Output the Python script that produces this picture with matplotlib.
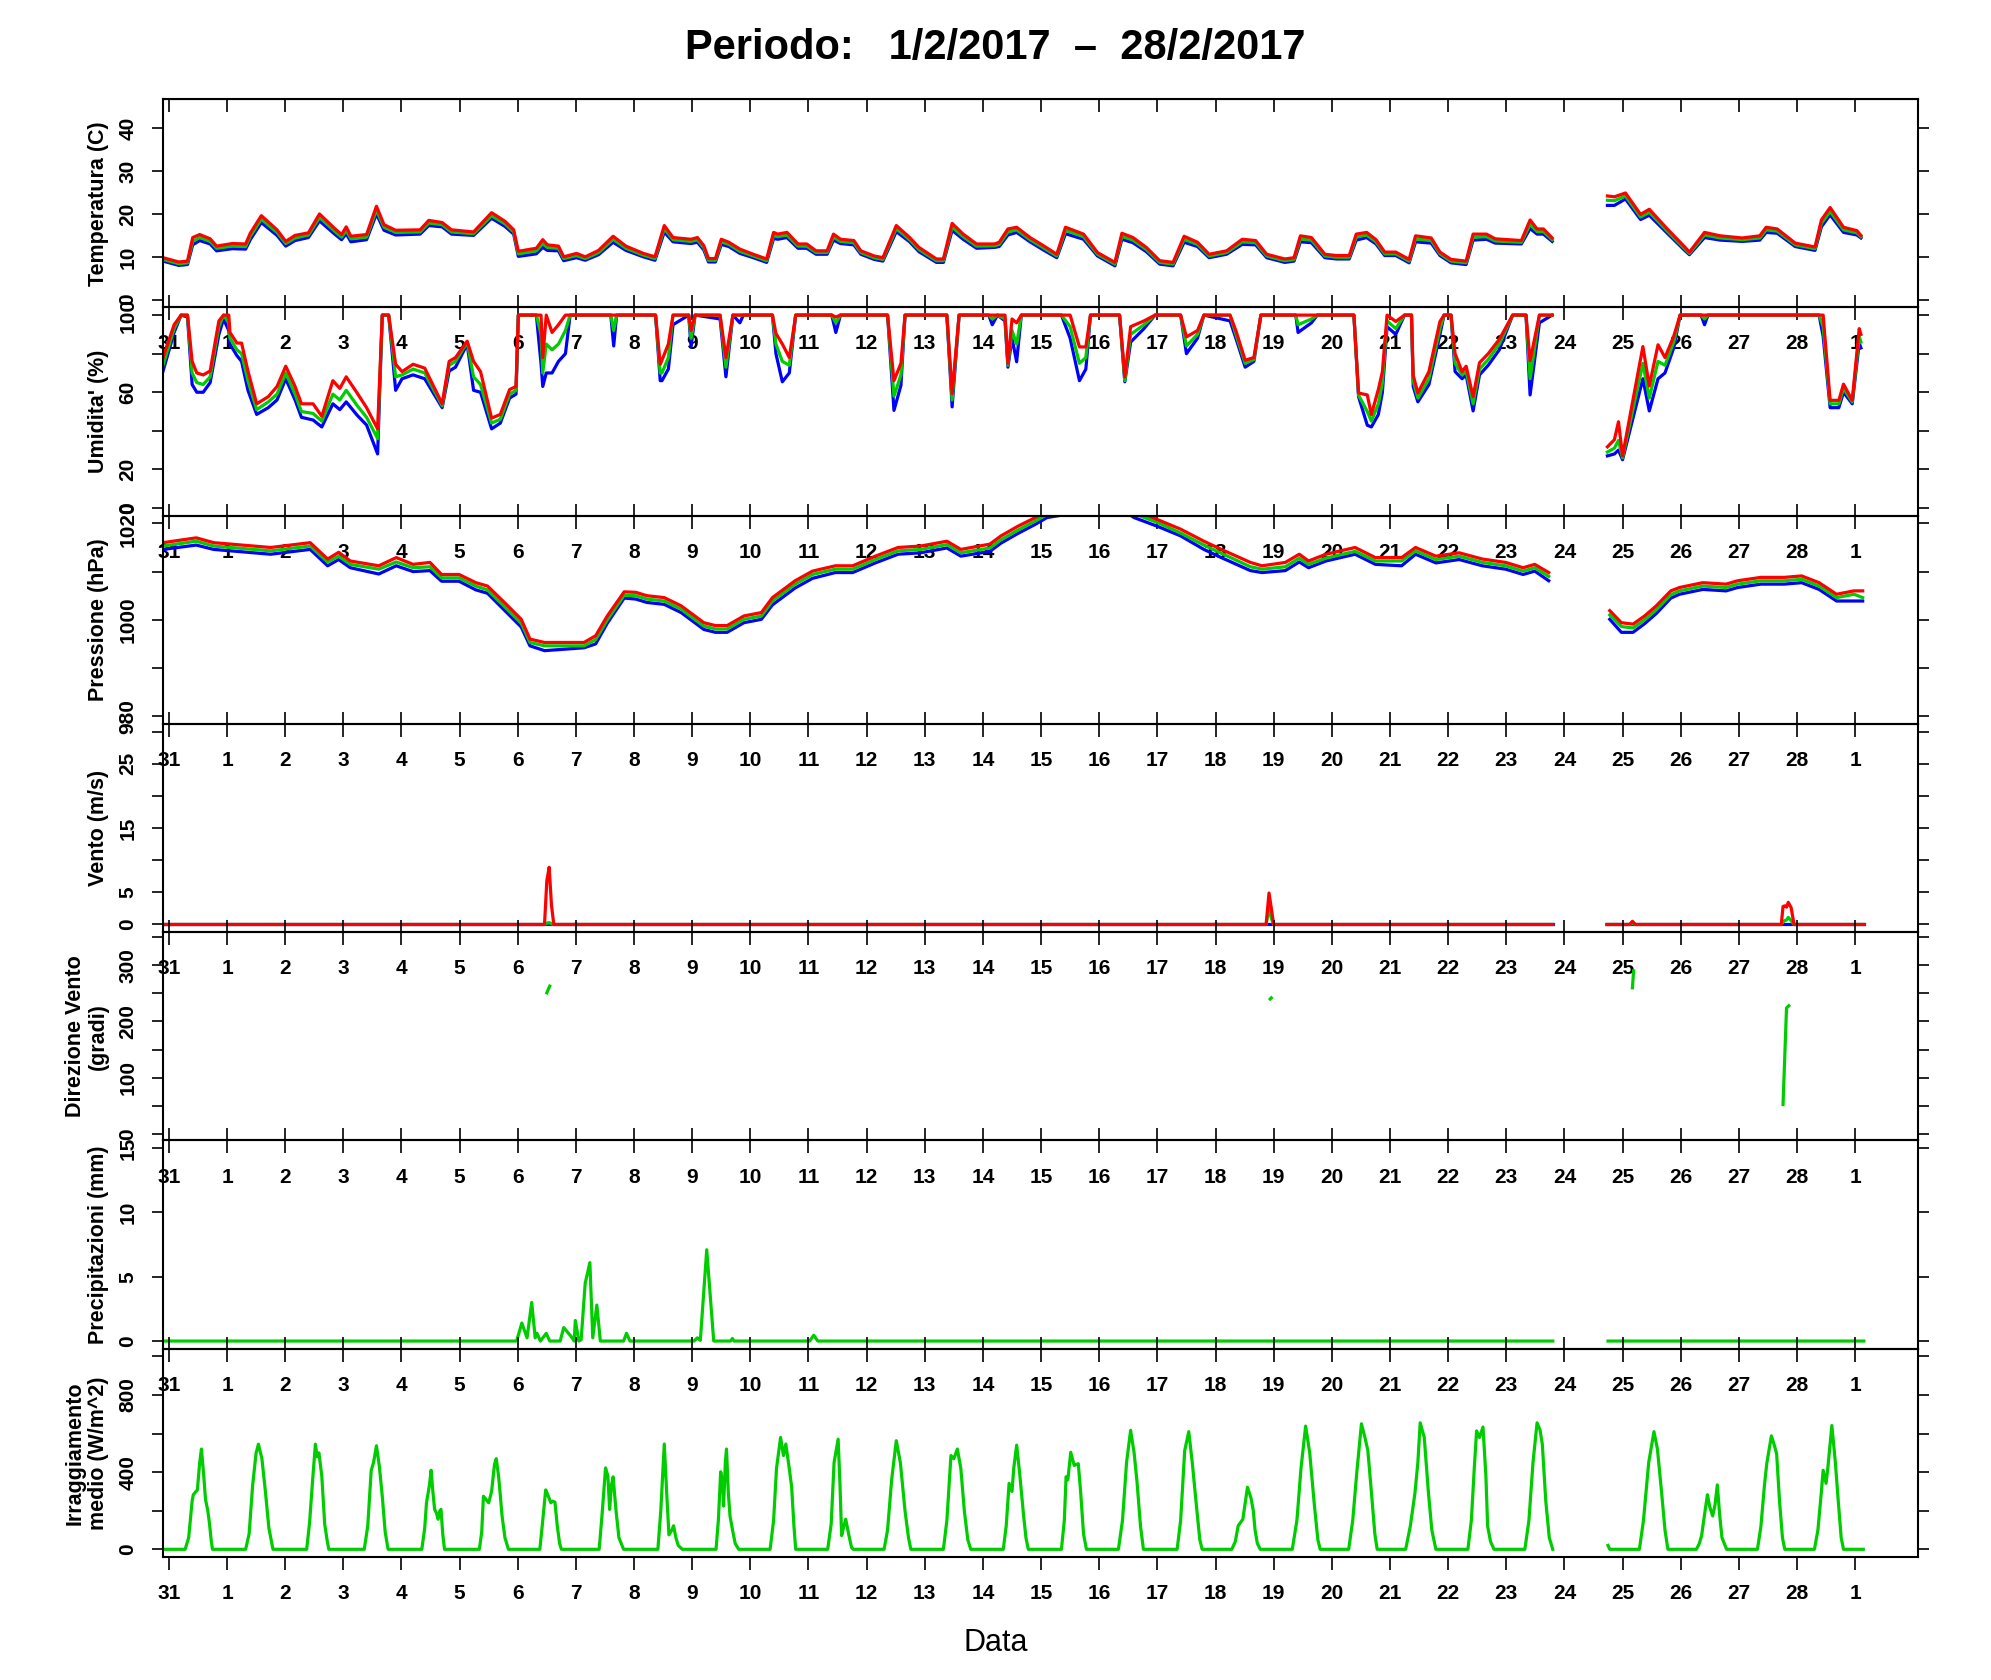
import numpy as np
import matplotlib
matplotlib.use("Agg")
import matplotlib.pyplot as plt

plt.rcParams['font.family'] = ['Liberation Sans', 'DejaVu Sans']

nan = np.nan

# days counted from 31 Jan 00:00 (1 Feb = 1, ..., 1 Mar = 29)
day_ticks = list(range(0, 30))
day_labels = ['31'] + [str(d) for d in range(1, 29)] + ['1']

# ---- temperature (C): max / mean / min
temp_t = [-0.10, 0.17, 0.32, 0.41, 0.53, 0.71, 0.82, 1.09, 1.32, 1.40, 1.59, 1.86, 2.01, 2.17, 2.40, 2.59,
          2.86, 2.97, 3.05, 3.13, 3.40, 3.57, 3.70, 3.90, 4.32, 4.47, 4.70, 4.86, 5.24, 5.55, 5.78, 5.93,
          6.01, 6.32, 6.43, 6.51, 6.70, 6.79, 7.01, 7.16, 7.39, 7.64, 7.86, 8.16, 8.36, 8.52, 8.67, 8.98,
          9.09, 9.20, 9.28, 9.40, 9.50, 9.63, 9.82, 10.05, 10.28, 10.40, 10.47, 10.63, 10.82, 10.97, 11.13, 11.32,
          11.43, 11.55, 11.78, 11.90, 12.13, 12.28, 12.51, 12.74, 12.90, 13.20, 13.32, 13.47, 13.66, 13.89, 14.20, 14.28,
          14.43, 14.58, 14.81, 15.04, 15.27, 15.42, 15.73, 15.97, 16.27, 16.39, 16.58, 16.81, 17.04, 17.27, 17.46, 17.69,
          17.89, 18.04, 18.19, 18.46, 18.69, 18.88, 19.19, 19.35, 19.46, 19.65, 19.88, 20.08, 20.30, 20.42, 20.60, 20.76,
          20.91, 21.10, 21.33, 21.44, 21.71, 21.86, 22.05, 22.31, 22.43, 22.66, 22.81, 23.26, 23.41, 23.53, 23.64, 23.79,
          24.30, 24.74, 24.86, 25.05, 25.31, 25.46, 25.77, 26.07, 26.15, 26.41, 26.68, 27.06, 27.36, 27.47, 27.66, 27.97,
          28.31, 28.42, 28.57, 28.80, 29.03, 29.10]
temp_max = [9.8, 8.8, 9.0, 14.5, 15.2, 14.2, 12.5, 13.1, 13.0, 15.5, 19.6, 16.3, 13.6, 15.0, 15.6, 20.0,
            16.5, 15.2, 17.0, 14.8, 15.2, 21.8, 17.5, 16.2, 16.3, 18.5, 18.0, 16.3, 15.8, 20.3, 18.3, 16.3,
            11.3, 12.0, 14.0, 12.8, 12.5, 10.0, 10.8, 10.0, 11.5, 14.8, 12.5, 10.8, 10.0, 17.3, 14.5, 14.1,
            14.5, 12.6, 9.6, 9.6, 14.1, 13.4, 11.8, 10.6, 9.5, 15.7, 15.3, 15.7, 13.0, 13.0, 11.4, 11.4,
            15.3, 14.1, 13.8, 11.4, 10.2, 9.8, 17.3, 14.5, 12.2, 9.5, 9.5, 17.8, 15.3, 13.0, 13.0, 13.4,
            16.5, 16.9, 14.5, 12.6, 10.6, 16.9, 15.3, 11.0, 8.7, 15.5, 14.5, 12.2, 9.1, 8.7, 14.8, 13.4,
            10.6, 11.0, 11.4, 14.1, 13.8, 10.6, 9.5, 9.8, 14.9, 14.5, 10.6, 10.3, 10.3, 15.3, 15.7, 14.0,
            11.1, 11.1, 9.4, 14.9, 14.4, 11.1, 9.4, 9.0, 15.3, 15.3, 14.2, 13.8, 18.6, 16.5, 16.5, 14.4,
            nan, 24.2, 24.0, 24.9, 19.9, 21.1, 16.5, 12.3, 11.1, 15.7, 14.9, 14.4, 14.9, 16.9, 16.5, 13.2,
            12.3, 18.6, 21.5, 16.9, 16.1, 15.0]
temp_mean = [9.4, 8.4, 8.6, 13.6, 14.5, 13.6, 12.0, 12.5, 12.4, 14.8, 18.8, 15.7, 13.1, 14.4, 15.1, 19.2,
             15.9, 14.6, 16.2, 14.2, 14.6, 20.9, 16.9, 15.7, 15.8, 17.9, 17.5, 15.8, 15.4, 19.6, 17.7, 15.8,
             10.7, 11.4, 13.1, 12.2, 12.0, 9.6, 10.3, 9.6, 11.0, 14.1, 12.0, 10.4, 9.6, 16.6, 14.0, 13.6,
             14.0, 12.1, 9.2, 9.2, 13.5, 12.9, 11.3, 10.2, 9.1, 15.0, 14.7, 15.1, 12.5, 12.5, 11.0, 11.0,
             14.6, 13.6, 13.3, 11.0, 9.8, 9.4, 16.6, 14.0, 11.7, 9.1, 9.1, 17.0, 14.7, 12.5, 12.6, 12.9,
             15.8, 16.3, 14.0, 12.1, 10.2, 16.2, 14.7, 10.6, 8.3, 14.8, 13.9, 11.7, 8.7, 8.3, 14.1, 12.9,
             10.2, 10.6, 11.0, 13.5, 13.3, 10.2, 9.1, 9.4, 14.2, 13.9, 10.2, 9.9, 9.9, 14.6, 15.1, 13.5,
             10.7, 10.7, 9.0, 14.2, 13.8, 10.7, 9.0, 8.6, 14.6, 14.7, 13.7, 13.4, 17.6, 15.9, 15.9, 14.0,
             nan, 23.2, 23.1, 24.2, 19.3, 20.4, 16.0, 11.9, 10.8, 15.1, 14.4, 14.0, 14.4, 16.3, 16.0, 12.8,
             11.9, 17.8, 20.6, 16.3, 15.6, 14.7]
temp_min = [9.0, 8.0, 8.2, 12.8, 13.8, 13.0, 11.4, 11.9, 11.8, 14.0, 18.0, 15.0, 12.5, 13.8, 14.5, 18.4,
            15.2, 14.0, 15.4, 13.5, 14.0, 20.0, 16.2, 15.1, 15.3, 17.3, 17.0, 15.3, 15.0, 19.0, 17.1, 15.3,
            10.1, 10.7, 12.2, 11.5, 11.4, 9.1, 9.8, 9.2, 10.5, 13.4, 11.5, 10.0, 9.2, 15.8, 13.5, 13.1,
            13.4, 11.6, 8.8, 8.8, 12.9, 12.4, 10.8, 9.8, 8.7, 14.3, 14.1, 14.5, 12.0, 12.0, 10.6, 10.6,
            13.9, 13.1, 12.8, 10.6, 9.4, 9.0, 15.9, 13.5, 11.2, 8.7, 8.7, 16.2, 14.1, 12.0, 12.2, 12.4,
            15.1, 15.7, 13.5, 11.6, 9.8, 15.4, 14.1, 10.2, 7.9, 14.1, 13.3, 11.2, 8.3, 7.9, 13.4, 12.4,
            9.8, 10.2, 10.6, 12.9, 12.8, 9.8, 8.7, 9.0, 13.5, 13.3, 9.8, 9.5, 9.5, 13.9, 14.5, 13.0,
            10.3, 10.3, 8.6, 13.5, 13.2, 10.3, 8.6, 8.2, 13.9, 14.1, 13.2, 13.0, 16.6, 15.3, 15.3, 13.6,
            nan, 22.0, 22.0, 23.5, 18.7, 19.7, 15.5, 11.5, 10.5, 14.5, 13.9, 13.6, 13.9, 15.7, 15.5, 12.4,
            11.5, 17.0, 19.8, 15.7, 15.1, 14.4]

# ---- relative humidity (%): max / mean / min
hum_t = [-0.10, 0.09, 0.21, 0.32, 0.40, 0.48, 0.59, 0.71, 0.86, 0.94, 1.03, 1.05, 1.17, 1.25, 1.36, 1.51,
         1.71, 1.86, 2.01, 2.17, 2.28, 2.48, 2.63, 2.82, 2.94, 3.05, 3.24, 3.40, 3.59, 3.67, 3.78, 3.90,
         4.01, 4.20, 4.40, 4.70, 4.82, 4.93, 5.13, 5.24, 5.36, 5.55, 5.70, 5.86, 5.97, 6.01, 6.32, 6.40,
         6.43, 6.49, 6.59, 6.70, 6.82, 6.90, 7.60, 7.65, 7.70, 8.37, 8.45, 8.48, 8.59, 8.67, 8.94, 8.98,
         9.05, 9.48, 9.58, 9.70, 9.82, 9.88, 10.38, 10.44, 10.55, 10.67, 10.78, 11.40, 11.47, 11.55, 12.36, 12.47,
         12.59, 12.66, 13.38, 13.47, 13.59, 14.10, 14.16, 14.25, 14.38, 14.43, 14.50, 14.58, 14.66, 15.35, 15.50, 15.66,
         15.77, 15.85, 16.35, 16.44, 16.54, 16.77, 16.96, 17.40, 17.50, 17.69, 17.80, 18.25, 18.35, 18.51, 18.66, 18.78,
         19.38, 19.42, 19.65, 19.75, 20.38, 20.46, 20.61, 20.68, 20.80, 20.87, 20.95, 21.10, 21.25, 21.37, 21.40, 21.48,
         21.67, 21.86, 21.93, 22.05, 22.12, 22.24, 22.31, 22.43, 22.54, 22.69, 22.88, 23.11, 23.34, 23.41, 23.57, 23.79,
         24.30, 24.74, 24.86, 24.93, 25.00, 25.35, 25.46, 25.61, 25.73, 25.88, 25.99, 26.35, 26.41, 26.47, 28.38, 28.45,
         28.57, 28.72, 28.80, 28.95, 29.07, 29.10]
hum_max = [78, 95, 100, 100, 76, 70, 69, 71, 97, 100, 100, 91, 85.5, 85.5, 71, 54,
           57.7, 63, 73.5, 63, 54, 54, 47.5, 66, 62, 68, 59.5, 52, 41, 100, 100, 74.5,
           70.7, 74.5, 72.5, 54, 76, 78, 86.5, 76, 70.7, 46.6, 48.5, 61.4, 63, 100, 100, 100,
           78, 100, 91, 95, 100, 100, 100, 100, 100, 100, 74.5, 76.6, 85, 100, 100, 92,
           100, 100, 78, 100, 100, 100, 100, 90.5, 85, 78, 100, 100, 99, 100, 100, 66,
           75, 100, 100, 59.3, 100, 100, 100, 100, 100, 75, 98, 96, 100, 100, 100, 83.5,
           83.5, 100, 100, 68, 94, 97, 100, 100, 88.7, 92, 100, 100, 92, 76.6, 78, 100,
           100, 100, 100, 100, 100, 59.6, 58.6, 48.4, 61.4, 70.7, 100, 96.7, 100, 100, 68.8, 59.6,
           70.7, 96.7, 100, 100, 80, 70.7, 73.5, 57.7, 75.3, 80, 87.4, 100, 100, 76.3, 100, 100,
           nan, 31.7, 35.4, 44.7, 27, 83.7, 63.3, 84.6, 78, 89, 100, 100, 100, 100, 100, 100,
           55.8, 55.8, 64.2, 55.8, 93, 90]
hum_mean = [74, 93, 100, 100, 70, 65, 64, 68, 94, 100, 96, 88, 82, 80, 66, 51,
            55, 59, 70, 59, 50, 49, 45, 59, 56, 61, 53, 47, 36, 100, 100, 68,
            69, 72, 70, 53, 74, 76, 86, 68, 64, 44, 46, 59, 61, 100, 100, 90,
            70, 85, 82, 85, 92, 100, 100, 92, 100, 100, 70, 70, 78, 100, 100, 88,
            100, 100, 73, 100, 100, 100, 100, 85, 76, 74, 100, 100, 96, 100, 100, 58,
            69, 100, 100, 56, 100, 100, 98, 100, 98, 74, 92, 85, 100, 100, 94, 75,
            78, 100, 100, 66, 90, 95, 100, 100, 84, 90, 100, 100, 90, 75, 77, 100,
            100, 95, 98, 100, 100, 58.5, 50, 45, 54, 65, 97, 93, 100, 100, 66, 57,
            67, 93, 100, 100, 75, 69, 71, 54, 72, 77, 85, 100, 100, 67, 100, 100,
            nan, 29, 31, 35, 26, 75, 57, 76, 74, 86, 100, 100, 98, 100, 100, 94,
            54, 54, 62, 55, 89, 86]
hum_min = [71, 91, 100, 99, 64, 60, 60, 65, 90, 98, 92, 85, 79, 76, 61, 48.5,
           52, 56, 67, 56, 47, 45.6, 42, 54, 51, 55, 48, 43, 28, 100, 100, 61,
           67, 69, 67, 52, 71, 73, 85, 61, 60, 41, 44, 57, 59, 100, 100, 75,
           63, 70, 70, 76, 80, 100, 100, 84, 100, 100, 66, 66, 72, 95, 100, 83.5,
           100, 98, 68, 100, 96, 100, 100, 80, 65.4, 70, 100, 100, 91, 100, 100, 50.6,
           63.6, 100, 100, 52.4, 100, 100, 95, 100, 97, 73, 88, 75.8, 100, 100, 88, 66,
           72, 100, 100, 65.4, 86, 93, 100, 100, 80, 88, 100, 97, 88, 73, 76, 100,
           100, 91, 96, 100, 100, 57.7, 42.9, 42, 48.4, 60, 94, 90, 100, 100, 63, 55,
           64, 90, 100, 100, 70.7, 67, 69, 50.3, 69, 74, 82, 100, 100, 58.6, 96, 100,
           nan, 27, 28, 30, 25, 67, 50.3, 67, 70, 83, 100, 100, 95, 100, 100, 89,
           52, 52, 60, 54, 85.5, 83]

# ---- pressure (hPa): max / mean / min
pres_t = [-0.10, 0.47, 0.77, 1.75, 2.43, 2.73, 2.92, 3.12, 3.61, 3.91, 4.20, 4.49, 4.69, 4.99, 5.28, 5.48,
          5.77, 6.06, 6.21, 6.46, 7.14, 7.34, 7.54, 7.83, 8.03, 8.22, 8.52, 8.81, 9.20, 9.40, 9.60, 9.89,
          10.19, 10.38, 10.77, 11.07, 11.46, 11.76, 12.15, 12.54, 12.93, 13.38, 13.62, 14.12, 14.31, 14.60, 14.90, 15.10,
          15.50, 16.50, 16.60, 17.00, 17.40, 17.80, 18.10, 18.60, 18.80, 19.20, 19.44, 19.60, 19.90, 20.40, 20.75, 21.20,
          21.44, 21.79, 22.19, 22.59, 22.99, 23.29, 23.49, 23.73, 24.30, 24.78, 24.98, 25.18, 25.38, 25.58, 25.83, 25.98,
          26.38, 26.78, 26.98, 27.38, 27.78, 28.08, 28.38, 28.68, 28.98, 29.13]
pres_max = [1016, 1017, 1016, 1015, 1016, 1012.6, 1014, 1012.2, 1011.2, 1012.9, 1011.5, 1011.9, 1009.4, 1009.4, 1007.7, 1007,
            1003.6, 1000.1, 996, 995.3, 995.3, 996.7, 1000.8, 1005.8, 1005.7, 1005, 1004.6, 1002.9, 999.4, 998.8, 998.8, 1000.8,
            1001.5, 1004.6, 1008.1, 1010.1, 1011.2, 1011.2, 1013.2, 1015, 1015.3, 1016.3, 1014.6, 1015.7, 1017.4, 1019.4, 1021.2, 1022.5,
            1023.5, 1023.5, 1022.8, 1020.8, 1018.8, 1016.3, 1014.6, 1011.9, 1011.2, 1011.9, 1013.6, 1012.2, 1013.6, 1015, 1012.9, 1012.9,
            1015, 1013.2, 1013.9, 1012.6, 1011.9, 1010.8, 1011.5, 1009.8, nan, 1001.9, 999.4, 999.1, 1000.8, 1002.9, 1006, 1006.7,
            1007.7, 1007.4, 1008.1, 1008.8, 1008.8, 1009.1, 1007.7, 1005.3, 1006, 1006]
pres_mean = [1015.3, 1016.3, 1015.3, 1014.3, 1015.3, 1012, 1013.2, 1011.5, 1010.5, 1012, 1010.8, 1011, 1008.7, 1008.7, 1007, 1006.2,
             1002.8, 999.3, 995.3, 994.6, 994.6, 995.9, 1000, 1005.1, 1005, 1004.3, 1003.9, 1002.2, 998.7, 998.1, 998.1, 1000.1,
             1000.8, 1003.9, 1007.4, 1009.4, 1010.5, 1010.5, 1012.5, 1014.3, 1014.6, 1015.6, 1013.9, 1014.9, 1016.6, 1018.6, 1020.5, 1021.8,
             1022.8, 1022.8, 1022, 1020.2, 1018, 1015.5, 1013.8, 1011, 1010.5, 1011, 1012.8, 1011.5, 1012.8, 1014.2, 1012.2, 1012.2,
             1014.3, 1012.5, 1013.2, 1011.9, 1011.2, 1010.1, 1010.8, 1009, nan, 1001, 998.6, 998.3, 1000, 1002.1, 1005.2, 1006,
             1007, 1006.7, 1007.4, 1008.1, 1008.1, 1008.4, 1007, 1004.6, 1005.3, 1004.6]
pres_min = [1014.6, 1015.5, 1014.6, 1013.6, 1014.6, 1011.2, 1012.5, 1010.8, 1009.5, 1011.2, 1010, 1010.2, 1008, 1008, 1006.2, 1005.5,
            1002, 998.5, 994.6, 993.6, 994.2, 995, 999.3, 1004.5, 1004.3, 1003.6, 1003.2, 1001.5, 998, 997.4, 997.4, 999.4,
            1000.1, 1003.1, 1006.6, 1008.6, 1009.8, 1009.8, 1011.8, 1013.6, 1013.9, 1014.9, 1013.2, 1014.2, 1015.9, 1017.9, 1019.8, 1021.2,
            1022, 1022, 1021.2, 1019.4, 1017.4, 1014.6, 1012.9, 1010.2, 1009.8, 1010.2, 1012, 1010.8, 1012.2, 1013.6, 1011.5, 1011.2,
            1013.6, 1011.8, 1012.5, 1011.2, 1010.5, 1009.4, 1010.1, 1008.1, nan, 1000.1, 997.4, 997.4, 999.2, 1001.3, 1004.5, 1005.3,
            1006.3, 1006, 1006.7, 1007.4, 1007.4, 1007.7, 1006.3, 1003.9, 1003.9, 1003.9]

# ---- wind speed (m/s): max / mean / min
wind_t = [-0.10, 6.46, 6.50, 6.54, 6.58, 6.62, 18.87, 18.92, 18.96, 19.00, 23.80, 24.30,
          24.73, 25.12, 25.17, 25.22, 27.73, 27.76, 27.79, 27.82, 27.85, 27.90, 27.95, 29.15]
wind_max = [0, 0, 6.8, 8.9, 3.0, 0, 0, 4.9, 2.5, 0, 0, nan,
            0, 0, 0.5, 0, 0, 2.8, 2.9, 2.7, 3.45, 2.6, 0, 0]
wind_mean = [0, 0, 0.2, 0.3, 0.1, 0, 0, 2.6, 1.0, 0, 0, nan,
             0, 0, 0.2, 0, 0, 0.4, 0.6, 0.7, 1.1, 0.6, 0, 0]
wind_min = [0, 0, 0, 0, 0, 0, 0, 0, 0, 0, 0, nan,
            0, 0, 0, 0, 0, 0, 0, 0, 0, 0, 0, 0]

# ---- wind direction (degrees)
dir_t = [6.50, 6.55, 6.60, 18.94, 18.96, 19.00, 25.17, 25.19, 25.30, 27.76, 27.82, 27.86]
dir_v = [251, 263, nan, 240, 242, nan, 260, 290, nan, 52, 224, 228]

# ---- precipitation (mm)
prec_t = [-0.10, 5.98, 6.07, 6.16, 6.24, 6.30, 6.33, 6.39, 6.49, 6.55, 6.73, 6.79, 6.91, 6.97, 6.99, 7.05,
          7.09, 7.16, 7.24, 7.29, 7.36, 7.42, 7.82, 7.87, 7.93, 9.03, 9.09, 9.14, 9.25, 9.37, 9.66, 9.69,
          9.72, 11.02, 11.09, 11.16, 23.80, 24.30, 24.75, 29.15]
prec_v = [0, 0, 1.4, 0.25, 3.0, 0.25, 0.6, 0, 0.6, 0, 0, 1.05, 0.4, 0, 1.6, 0,
          0.1, 4.5, 6.1, 0.25, 2.8, 0, 0, 0.6, 0, 0, 0.25, 0.05, 7.1, 0, 0, 0.2,
          0, 0, 0.45, 0, 0, nan, 0, 0]

# ---- mean irradiance (W/m^2)
irr_t = [-0.10,
         0.28, 0.34, 0.40, 0.42, 0.49, 0.53, 0.56, 0.60, 0.63, 0.67, 0.70, 0.73, 0.75,
         1.32, 1.38, 1.44, 1.50, 1.54, 1.60, 1.66, 1.72, 1.79,
         2.37, 2.42, 2.47, 2.52, 2.55, 2.58, 2.63, 2.68, 2.72, 2.75,
         3.36, 3.42, 3.48, 3.52, 3.57, 3.62, 3.67, 3.72, 3.77,
         4.35, 4.40, 4.43, 4.48, 4.51, 4.54, 4.57, 4.60, 4.63, 4.66, 4.68, 4.71, 4.74,
         5.34, 5.38, 5.41, 5.45, 5.50, 5.55, 5.60, 5.63, 5.67, 5.70, 5.73, 5.78, 5.84,
         6.38, 6.43, 6.48, 6.52, 6.57, 6.60, 6.64, 6.68, 6.72, 6.75,
         7.40, 7.45, 7.51, 7.55, 7.58, 7.61, 7.64, 7.69, 7.74, 7.82,
         8.41, 8.46, 8.52, 8.56, 8.60, 8.65, 8.68, 8.72, 8.76, 8.83,
         9.41, 9.45, 9.49, 9.52, 9.54, 9.57, 9.59, 9.62, 9.65, 9.70, 9.74, 9.80,
         10.34, 10.40, 10.45, 10.52, 10.57, 10.61, 10.66, 10.71, 10.75, 10.78,
         11.33, 11.39, 11.44, 11.51, 11.54, 11.57, 11.60, 11.64, 11.69, 11.74, 11.77,
         12.30, 12.36, 12.43, 12.51, 12.58, 12.66, 12.72, 12.76,
         13.32, 13.38, 13.45, 13.50, 13.56, 13.62, 13.68, 13.74, 13.79,
         14.35, 14.40, 14.45, 14.50, 14.53, 14.58, 14.63, 14.70, 14.74, 14.78,
         15.35, 15.40, 15.43, 15.46, 15.51, 15.57, 15.64, 15.68, 15.73, 15.78,
         16.33, 16.40, 16.47, 16.54, 16.60, 16.65, 16.71, 16.76,
         17.34, 17.40, 17.47, 17.54, 17.60, 17.68, 17.73, 17.77,
         18.28, 18.34, 18.39, 18.47, 18.51, 18.55, 18.61, 18.65, 18.68, 18.72, 18.77,
         19.32, 19.40, 19.47, 19.55, 19.62, 19.70, 19.76, 19.80,
         20.29, 20.36, 20.43, 20.51, 20.57, 20.62, 20.68, 20.74, 20.78,
         21.27, 21.35, 21.43, 21.48, 21.52, 21.59, 21.66, 21.72, 21.79,
         22.34, 22.40, 22.45, 22.49, 22.54, 22.60, 22.65, 22.68, 22.73, 22.79,
         23.32, 23.39, 23.46, 23.53, 23.58, 23.62, 23.68, 23.74, 23.80,
         24.30, 24.75, 24.78,
         25.29, 25.36, 25.45, 25.54, 25.60, 25.67, 25.73, 25.78,
         26.27, 26.32, 26.36, 26.41, 26.46, 26.50, 26.55, 26.59, 26.63, 26.67, 26.71, 26.79,
         27.32, 27.38, 27.44, 27.48, 27.56, 27.61, 27.65, 27.70, 27.75, 27.79,
         28.30, 28.36, 28.42, 28.45, 28.50, 28.53, 28.60, 28.66, 28.71, 28.76, 28.80,
         29.14]
irr_v = [0,
         0, 60, 250, 283, 308, 450, 520, 380, 258, 200, 130, 40, 0,
         0, 80, 330, 500, 545, 470, 300, 110, 0,
         0, 139, 350, 545, 480, 500, 380, 130, 50, 0,
         0, 120, 410, 450, 537, 430, 275, 90, 0,
         0, 110, 240, 330, 410, 300, 207, 190, 156, 200, 207, 80, 0,
         0, 90, 275, 260, 241, 300, 440, 470, 380, 280, 173, 60, 0,
         0, 150, 308, 280, 241, 250, 244, 120, 30, 0,
         0, 180, 422, 380, 207, 330, 376, 200, 60, 0,
         0, 200, 546, 300, 75, 100, 122, 60, 20, 0,
         0, 150, 402, 350, 224, 450, 520, 300, 173, 90, 30, 0,
         0, 150, 420, 580, 486, 546, 440, 325, 120, 0,
         0, 130, 450, 571, 350, 71, 110, 156, 80, 10, 0,
         0, 100, 360, 563, 450, 200, 60, 0,
         0, 150, 486, 470, 520, 420, 200, 50, 0,
         0, 120, 342, 300, 420, 540, 400, 173, 60, 0,
         0, 150, 376, 360, 503, 435, 444, 300, 80, 0,
         0, 150, 450, 617, 500, 350, 120, 0,
         0, 150, 512, 610, 450, 200, 50, 0,
         0, 40, 122, 156, 240, 322, 266, 200, 100, 30, 0,
         0, 150, 420, 639, 500, 230, 50, 0,
         0, 150, 400, 651, 580, 512, 300, 80, 0,
         0, 120, 292, 450, 656, 580, 300, 100, 0,
         0, 150, 420, 614, 580, 634, 380, 120, 40, 0,
         0, 150, 450, 656, 620, 546, 250, 60, 0,
         nan, 20, 0,
         0, 150, 450, 610, 520, 300, 100, 0,
         0, 30, 71, 180, 283, 220, 173, 230, 334, 180, 60, 0,
         0, 120, 330, 444, 588, 540, 495, 250, 60, 0,
         0, 100, 300, 410, 342, 420, 642, 450, 250, 60, 0,
         0]

BLUE, GREEN, RED = '#0000ff', '#00cd00', '#ff0000'
LW = 2.3

fig = plt.figure(figsize=(19.91, 16.8), dpi=100)
left, right, top, bottom = 0.0819, 0.9633, 0.941, 0.0732
h = (top - bottom) / 7
axes = [fig.add_axes([left, top - (i + 1) * h, right - left, h]) for i in range(7)]

def three(ax, t, lo, mid, hi):
    ax.plot(t, lo, color=BLUE, lw=LW)
    ax.plot(t, mid, color=GREEN, lw=LW)
    ax.plot(t, hi, color=RED, lw=LW)

three(axes[0], temp_t, temp_min, temp_mean, temp_max)
three(axes[1], hum_t, hum_min, hum_mean, hum_max)
three(axes[2], pres_t, pres_min, pres_mean, pres_max)
three(axes[3], wind_t, wind_min, wind_mean, wind_max)
axes[4].plot(dir_t, dir_v, color=GREEN, lw=LW)
axes[5].plot(prec_t, prec_v, color=GREEN, lw=LW)
axes[6].plot(irr_t, irr_v, color=GREEN, lw=LW)

panels = [
    ("Temperatura (C)", (-1.8, 46.8), [0, 10, 20, 30, 40], ['0', '10', '20', '30', '40']),
    ("Umidita' (%)", (-4, 104), [0, 20, 40, 60, 80, 100], ['0', '20', '', '60', '', '100']),
    ("Pressione (hPa)", (978.4, 1021.6), [980, 990, 1000, 1010, 1020], ['980', '', '1000', '', '1020']),
    ("Vento (m/s)", (-1.2, 31.2), [0, 5, 10, 15, 20, 25, 30], ['0', '5', '', '15', '', '25', '']),
    ("Direzione Vento\n(gradi)", (-12, 359), [0, 50, 100, 150, 200, 250, 300, 350],
     ['0', '', '100', '', '200', '', '300', '']),
    ("Precipitazioni (mm)", (-0.6, 15.6), [0, 5, 10, 15], ['0', '5', '10', '15']),
    ("Irraggiamento\nmedio (W/m^2)", (-40, 1040), [0, 200, 400, 600, 800, 1000],
     ['0', '', '400', '', '800', '']),
]

for i, (ax, (lab, ylim, yt, ytl)) in enumerate(zip(axes, panels)):
    ax.set_facecolor('none')
    ax.set_xlim(-0.10, 30.08)
    ax.set_ylim(*ylim)
    ax.set_yticks(yt)
    ax.set_yticklabels(ytl)
    ax.set_xticks(day_ticks)
    ax.set_xticklabels(day_labels)
    for s in ax.spines.values():
        s.set_linewidth(1.5)
    ax.tick_params(axis='x', direction='out', length=9, width=1.2, bottom=True, top=(i > 0),
                   labelbottom=True, labeltop=False, pad=10.5, labelsize=15)
    ax.tick_params(axis='y', direction='out', length=8, width=1.2, left=True, right=True,
                   labelleft=True, labelright=False, labelrotation=90, pad=10.5, labelsize=15)
    for t in ax.get_xticklabels() + ax.get_yticklabels():
        t.set_fontweight('bold')
    for t in ax.get_yticklabels():
        t.set_verticalalignment('center')
    ax.set_ylabel(lab, fontsize=15.5, fontweight='bold', linespacing=1.1)
    ax.yaxis.set_label_coords(-0.031, 0.5)

# inward ticks along the top of the first panel
sec = axes[0].secondary_xaxis('top')
sec.set_xticks(day_ticks)
sec.tick_params(direction='in', length=9, width=1.2, labeltop=False)

fig.text(0.5, 1 - 48 / 1680, "Periodo:   1/2/2017  \u2013  28/2/2017", ha='center', va='center',
         fontsize=30, fontweight='bold')
fig.text(0.5, 1 - 1643 / 1680, "Data", ha='center', va='center', fontsize=22)

fig.savefig("out.png", dpi=100, facecolor='white')
